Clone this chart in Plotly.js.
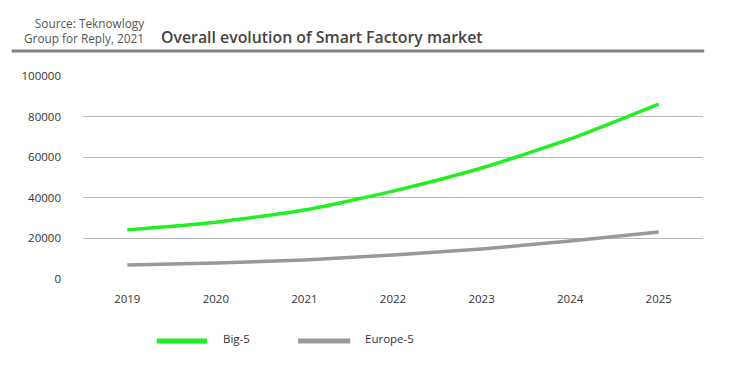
<!DOCTYPE html>
<html><head><meta charset="utf-8">
<script src="https://cdn.plot.ly/plotly-3.0.1.min.js"></script>
<style>html,body{margin:0;padding:0;background:#fff}#chart{width:734px;height:371px}</style>
</head><body><div id="chart"></div>
<script>
const years = ['2019','2020','2021','2022','2023','2024','2025'];
const seriesNames = ['Big-5', 'Europe-5'];
const seriesColors = ['#22ee22', '#999999'];
const big5 = [24200, 28000, 34000, 43300, 54700, 69000, 86200];
const europe5 = [6900, 7900, 9400, 11800, 14800, 18700, 23200];
const yTicks = [0, 20000, 40000, 60000, 80000, 100000];

const font = 'Open Sans, Lato, sans-serif';
const traces = [big5, europe5].map((vals, i) => ({
  x: years, y: vals, name: seriesNames[i], type: 'scatter', mode: 'lines',
  line: {color: seriesColors[i], width: 3.5, shape: 'spline', smoothing: 0.6}
}));

// manual legend (line swatch + label), placed in paper coordinates
const legendSpots = [{x0: 0.119, x1: 0.2, tx: 0.222}, {x0: 0.347, x1: 0.431, tx: 0.452}];
const legY = -0.305;
const legendShapes = legendSpots.map((p, i) => ({
  type: 'line', xref: 'paper', yref: 'paper', x0: p.x0, x1: p.x1, y0: legY, y1: legY,
  line: {color: seriesColors[i], width: 5}
}));
const legendLabels = legendSpots.map((p, i) => ({
  text: seriesNames[i], xref: 'paper', yref: 'paper', x: p.tx, y: legY + 0.01,
  xanchor: 'left', yanchor: 'middle', showarrow: false,
  font: {family: font, size: 11.5, color: '#333'}
}));

const layout = {
  width: 734, height: 371,
  margin: {l: 83, r: 31, t: 76, b: 92},
  paper_bgcolor: '#fff', plot_bgcolor: '#fff',
  font: {family: font, size: 11, color: '#333'},
  showlegend: false,
  xaxis: {type: 'category', range: [-0.5, 6.5], showgrid: false, zeroline: false,
          showline: false, ticks: '', ticklabelstandoff: 11, tickfont: {size: 11.5, color: '#333'}},
  yaxis: {range: [0, 100000], tickvals: yTicks, tickformat: 'd', showgrid: true,
          gridcolor: '#b8b8b8', gridwidth: 1, zeroline: false, showline: false, ticks: '',
          ticklabelstandoff: 21, tickfont: {size: 11.5, color: '#333'}},
  annotations: [
    {text: 'Source: Teknowlogy<br>Group for Reply, 2021', xref: 'paper', yref: 'paper',
     x: 0.102, y: 1.31, xanchor: 'right', yanchor: 'top', align: 'right', showarrow: false,
     font: {family: font, size: 11.8, color: '#555'}},
    {text: 'Overall evolution of Smart Factory market', xref: 'paper', yref: 'paper',
     x: 0.122, y: 1.19, xanchor: 'left', yanchor: 'middle', showarrow: false,
     font: {family: font, size: 15.85, color: '#444', weight: 600}}
  ].concat(legendLabels),
  shapes: [
    {type: 'line', xref: 'paper', yref: 'paper', x0: -0.115, x1: 1.002, y0: 1.123, y1: 1.123,
     line: {color: '#808080', width: 3}}
  ].concat(legendShapes)
};
Plotly.newPlot('chart', traces, layout, {displayModeBar: false, staticPlot: true});
</script></body></html>
